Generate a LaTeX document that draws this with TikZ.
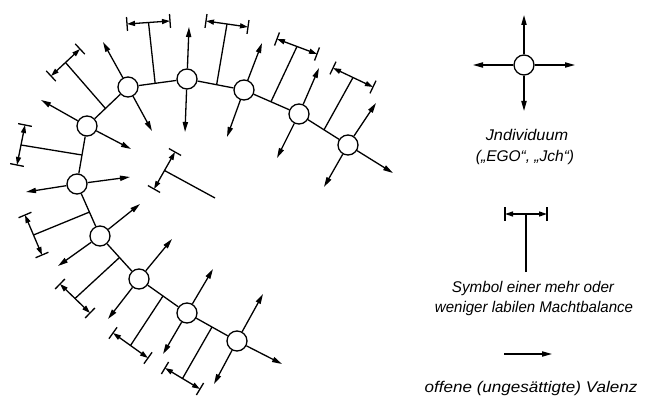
\documentclass[tikz,border=0pt]{standalone}
\usepackage{fontspec}
\usepackage{graphicx}
\setmainfont{Liberation Sans}
\usetikzlibrary{arrows.meta,calc}
\newcommand\balsym[3]{%
  \draw[balbar] (#2) -- (#3);
  \draw ($(#2)!7pt!90:(#3)$) -- ($(#2)!7pt!-90:(#3)$);
  \draw ($(#3)!7pt!90:(#2)$) -- ($(#3)!7pt!-90:(#2)$);
  \draw (#1) -- ($(#2)!0.5!(#3)$);}
\begin{document}
\begin{tikzpicture}[x=1pt,y=-1pt,
  line width=1.3pt,
  ind/.style={circle,draw,fill=white,minimum size=20pt,inner sep=0pt},
  valence/.style={-{Triangle[length=10pt,width=5.2pt]}},
  balbar/.style={{Triangle[length=8pt,width=5pt]}-{Triangle[length=8pt,width=5pt]}},
  lbl/.style={font=\fontsize{15.5}{18}\selectfont\itshape,inner sep=0pt,anchor=base}
]
\fill[white] (0,0) rectangle (652,401);
\useasboundingbox (0,0) rectangle (652,401);

% individuals
\node[ind] (c1) at (77,184) {};
\node[ind] (c2) at (87,126) {};
\node[ind] (c3) at (128,87) {};
\node[ind] (c4) at (187,79) {};
\node[ind] (c5) at (244,90) {};
\node[ind] (c6) at (299,114) {};
\node[ind] (c7) at (348,145) {};
\node[ind] (c8) at (100,236) {};
\node[ind] (c9) at (139,279) {};
\node[ind] (c10) at (187,313) {};
\node[ind] (c11) at (237,341) {};

% chain links
\draw (c1) -- (c2);
\draw (c2) -- (c3);
\draw (c3) -- (c4);
\draw (c4) -- (c5);
\draw (c5) -- (c6);
\draw (c6) -- (c7);
\draw (c1) -- (c8);
\draw (c8) -- (c9);
\draw (c9) -- (c10);
\draw (c10) -- (c11);

% open valences
\coordinate (v1a) at (26,192);  \coordinate (v1b) at (130,177);
\coordinate (v2a) at (41,100);  \coordinate (v2b) at (131,149);
\coordinate (v3a) at (103,42);  \coordinate (v3b) at (152,131);
\coordinate (v4a) at (189,27);  \coordinate (v4b) at (185,132);
\coordinate (v5a) at (262,43);  \coordinate (v5b) at (227,137);
\coordinate (v6a) at (319,68);  \coordinate (v6b) at (277,158);
\coordinate (v7a) at (376,103); \coordinate (v7b) at (324,187); \coordinate (v7c) at (393,173);
\coordinate (v8a) at (140,204); \coordinate (v8b) at (58,266);
\coordinate (v9a) at (172,239); \coordinate (v9b) at (108,319);
\coordinate (v10a) at (213,269); \coordinate (v10b) at (163,354);
\coordinate (v11a) at (263,294); \coordinate (v11b) at (214,384); \coordinate (v11c) at (282,364);
\foreach \c/\v in {c1/v1a,c1/v1b,c2/v2a,c2/v2b,c3/v3a,c3/v3b,c4/v4a,c4/v4b,
  c5/v5a,c5/v5b,c6/v6a,c6/v6b,c7/v7a,c7/v7b,c7/v7c,c8/v8a,c8/v8b,
  c9/v9a,c9/v9b,c10/v10a,c10/v10b,c11/v11a,c11/v11b,c11/v11c}
  \draw[valence] (\c) -- (\v);

% balance symbols
\coordinate (k1) at ($(c1)!0.5!(c2)$);
\coordinate (b1l) at (25,125); \coordinate (b1r) at (17,165);
\balsym{k1}{b1l}{b1r}
\coordinate (k2) at ($(c2)!0.45!(c3)$);
\coordinate (b2l) at (80,49); \coordinate (b2r) at (51,76);
\balsym{k2}{b2l}{b2r}
\coordinate (k3) at ($(c3)!0.46!(c4)$);
\coordinate (b3l) at (127,24); \coordinate (b3r) at (170,21);
\balsym{k3}{b3l}{b3r}
\coordinate (k4) at ($(c4)!0.52!(c5)$);
\coordinate (b4l) at (206,21); \coordinate (b4r) at (248,27);
\balsym{k4}{b4l}{b4r}
\coordinate (k5) at ($(c5)!0.49!(c6)$);
\coordinate (b5l) at (277,39); \coordinate (b5r) at (317,54);
\balsym{k5}{b5l}{b5r}
\coordinate (k6) at ($(c6)!0.51!(c7)$);
\coordinate (b6l) at (333,68); \coordinate (b6r) at (373,87);
\balsym{k6}{b6l}{b6r}
\coordinate (k7) at (215,198);
\coordinate (b7l) at (175,152); \coordinate (b7r) at (154,189);
\balsym{k7}{b7l}{b7r}
\coordinate (k8) at ($(c1)!0.54!(c8)$);
\coordinate (b8l) at (25,215); \coordinate (b8r) at (42,255);
\balsym{k8}{b8l}{b8r}
\coordinate (k9) at ($(c8)!0.5!(c9)$);
\coordinate (b9l) at (60,284); \coordinate (b9r) at (90,313);
\balsym{k9}{b9l}{b9r}
\coordinate (k10) at ($(c9)!0.5!(c10)$);
\coordinate (b10l) at (113,333); \coordinate (b10r) at (148,358);
\balsym{k10}{b10l}{b10r}
\coordinate (k11) at ($(c10)!0.5!(c11)$);
\coordinate (b11l) at (165,368); \coordinate (b11r) at (200,389);
\balsym{k11}{b11l}{b11r}

% legend: individual
\node[ind] (ego) at (524,65) {};
\coordinate (eu) at (524,15); \coordinate (ed) at (524,111);
\coordinate (el) at (473,65); \coordinate (er) at (575,65);
\foreach \v in {eu,ed,el,er} \draw[valence] (ego) -- (\v);
\node[lbl] (t1) at (527,140) {\scalebox{1.05}[1]{Jndividuum}};
\node[lbl] (t2) at (525,161) {(„EGO“, „Jch“)};

% legend: balance
\coordinate (lk) at (526,272);
\coordinate (ll) at (505,214); \coordinate (lr) at (547,214);
\balsym{lk}{ll}{lr}
\node[lbl] (t3) at (533,292) {\scalebox{0.98}[1]{Symbol einer mehr oder}};
\node[lbl] (t4) at (534,312) {\scalebox{0.97}[1]{weniger labilen Machtbalance}};

% legend: valence
\coordinate (va) at (504,354); \coordinate (vb) at (552,354);
\draw[valence] (va) -- (vb);
\node[lbl] (t5) at (531,392) {\scalebox{1.1}[1]{offene (ungesättigte) Valenz}};
\end{tikzpicture}
\end{document}
